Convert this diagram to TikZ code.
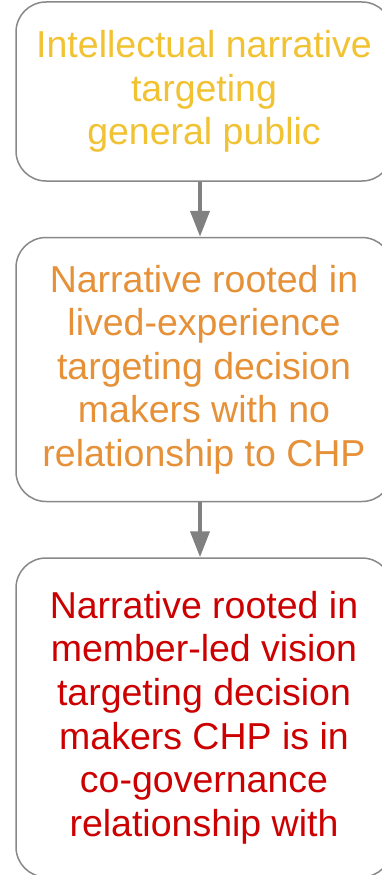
\documentclass[tikz,border=0pt]{standalone}
\usepackage{fontspec}
\setmainfont{Liberation Sans}
\usetikzlibrary{positioning,arrows.meta}
\definecolor{boxgray}{HTML}{888888}
\definecolor{arrowgray}{HTML}{808080}
\definecolor{stageyellow}{HTML}{F1C232}
\definecolor{stageorange}{HTML}{E69138}
\definecolor{stagered}{HTML}{CC0000}
\begin{document}
\begin{tikzpicture}[
    node distance=55pt,
    stagebox/.style={draw=boxgray, line width=1.5pt, rounded corners=30pt, fill=white,
        minimum width=376pt, inner sep=0pt, align=center,
        font=\fontsize{37.5}{43.6}\selectfont},
    flow/.style={-{Triangle[width=19pt,length=26pt]}, line width=4pt, draw=arrowgray},
]
\useasboundingbox (0,0) rectangle (382pt,-875pt);

% Stages
\node[stagebox, minimum height=179pt, text=stageyellow] (general) at (204pt,-91.5pt)
    {Intellectual narrative\\targeting\\general public};
\node[stagebox, minimum height=264pt, text=stageorange, below=of general] (decision)
    {Narrative rooted in\\lived-experience\\targeting decision\\makers with no\\relationship to CHP};
\node[stagebox, minimum height=319pt, text=stagered, below=of decision] (cogov)
    {Narrative rooted in\\member-led vision\\targeting decision\\makers CHP is in\\co-governance\\relationship with};

% Arrows
\draw[flow] ([xshift=-4pt]general.south) -- ([xshift=-4pt]decision.north);
\draw[flow] ([xshift=-4pt]decision.south) -- ([xshift=-4pt]cogov.north);

\end{tikzpicture}
\end{document}
